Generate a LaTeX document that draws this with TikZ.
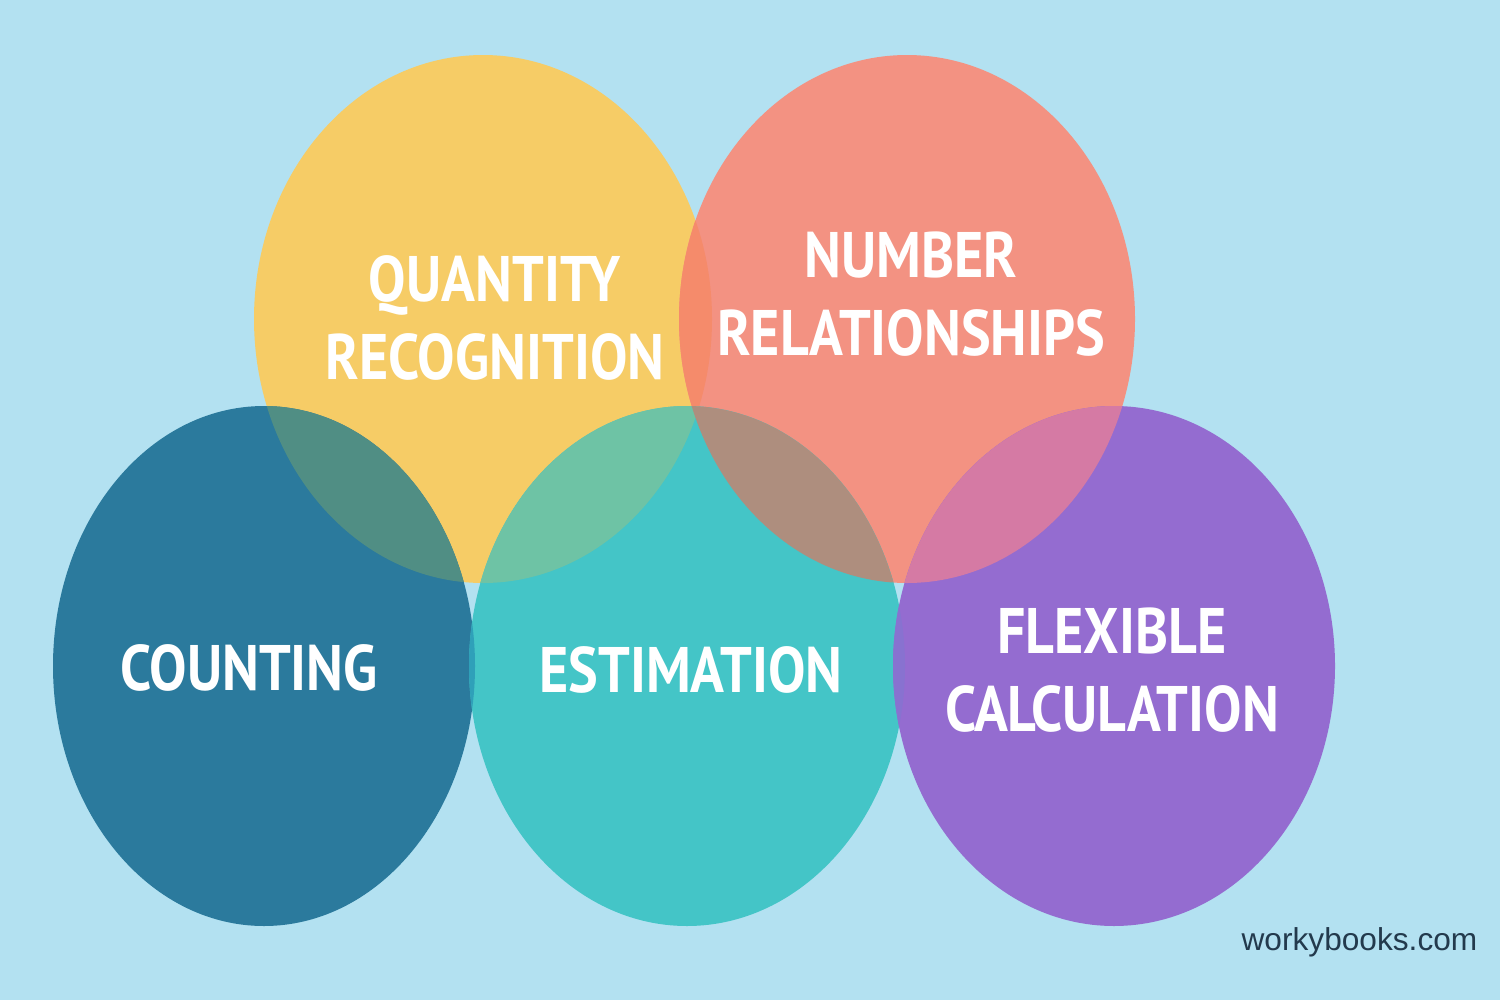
\documentclass[tikz,border=0pt]{standalone}
\usepackage{fontspec}
\usepackage{tikz}
\newfontfamily\labelfont{PT Sans}[FakeStretch=0.87]
\newfontfamily\sitefont{Liberation Sans}

\definecolor{skybg}{HTML}{B3E1F1}
\definecolor{qtycol}{HTML}{F6CC66}
\definecolor{numcol}{HTML}{F39282}
\definecolor{cntcol}{HTML}{2B7A9D}
\definecolor{estcol}{HTML}{44C5C7}
\definecolor{flxcol}{HTML}{946CD0}
\definecolor{qtynum}{HTML}{F58B6B}
\definecolor{qtycnt}{HTML}{508E84}
\definecolor{qtyest}{HTML}{6EC3A5}
\definecolor{numest}{HTML}{AE8E7E}
\definecolor{numflx}{HTML}{D57AA4}
\definecolor{cntest}{HTML}{2FA0B9}
\definecolor{estflx}{HTML}{8872D0}
\definecolor{sitecol}{HTML}{233A4D}

\newcommand{\qtyshape}{(483,319) ellipse [x radius=229, y radius=264]}
\newcommand{\numshape}{(907,319) ellipse [x radius=228, y radius=264]}
\newcommand{\cntshape}{(264,666) ellipse [x radius=211, y radius=260]}
\newcommand{\estshape}{(687,666) ellipse [x radius=218, y radius=260]}
\newcommand{\flxshape}{(1114,666) ellipse [x radius=221, y radius=260]}

\begin{document}
\begin{tikzpicture}[x=0.01cm, y=-0.01cm,
    topic/.style={text=white, align=center, inner sep=0pt,
      font=\labelfont\bfseries\fontsize{18.3}{22.2}\selectfont}]
    \useasboundingbox (0,0) rectangle (1500,1000);
    \fill[skybg] (0,0) rectangle (1500,1000);
    \fill[qtycol] \qtyshape;
    \fill[numcol] \numshape;
    \fill[cntcol] \cntshape;
    \fill[estcol] \estshape;
    \fill[flxcol] \flxshape;
    \begin{scope} \clip \qtyshape; \fill[qtynum] \numshape; \end{scope}
    \begin{scope} \clip \qtyshape; \fill[qtycnt] \cntshape; \end{scope}
    \begin{scope} \clip \qtyshape; \fill[qtyest] \estshape; \end{scope}
    \begin{scope} \clip \numshape; \fill[numest] \estshape; \end{scope}
    \begin{scope} \clip \numshape; \fill[numflx] \flxshape; \end{scope}
    \begin{scope} \clip \cntshape; \fill[cntest] \estshape; \end{scope}
    \begin{scope} \clip \estshape; \fill[estflx] \flxshape; \end{scope}
    \node[topic] (quantity) at (495,318) {QUANTITY\\RECOGNITION};
    \node[topic] (number) at (911,294) {NUMBER\\RELATIONSHIPS};
    \node[topic] (counting) at (249,668) {COUNTING};
    \node[topic] (estimation) at (691,670) {ESTIMATION};
    \node[topic] (flexible) at (1112,670) {FLEXIBLE\\CALCULATION};
    \node[anchor=base east, inner sep=0pt, text=sitecol,
      font=\sitefont\fontsize{9}{11}\selectfont] (site) at (1478,950) {workybooks.com};
\end{tikzpicture}
\end{document}
